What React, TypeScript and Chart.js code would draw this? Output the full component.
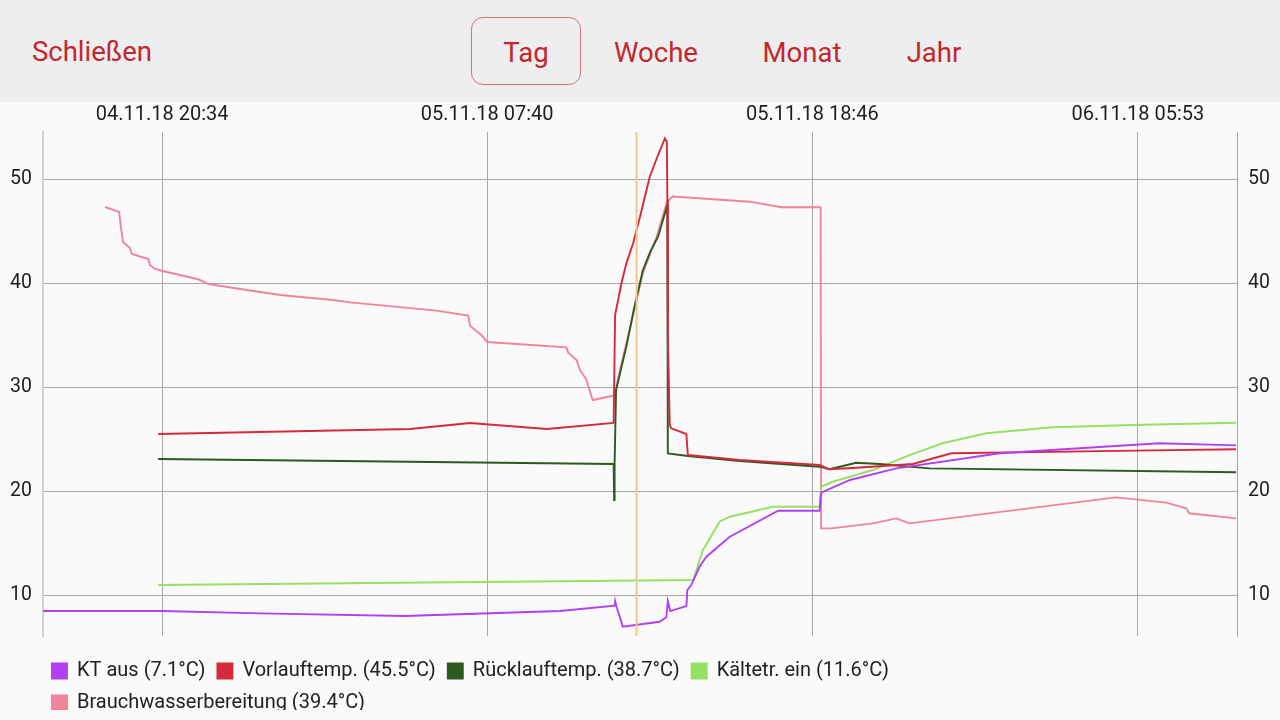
import React, { useEffect, useRef } from 'react';
import { Chart, registerables } from 'chart.js';

Chart.register(...registerables);

// Time values are minutes since 04.11.18 00:00
const SERIES_LABELS = [
  'KT aus (7.1°C)',
  'Vorlauftemp. (45.5°C)',
  'Rücklauftemp. (38.7°C)',
  'Kältetr. ein (11.6°C)',
  'Brauchwasserbereitung (39.4°C)',
];
const SERIES_COLORS = ['#b040f0', '#d42a3c', '#2d5a1e', '#96e063', '#f0849b'];

const KT_AUS_T = [990, 1236, 1435, 1731, 2049, 2161, 2162, 2165, 2178, 2253, 2267, 2270, 2275, 2308, 2310, 2318, 2335, 2349, 2397, 2496, 2581, 2584, 2643, 2738, 2950, 3277, 3434];
const KT_AUS_V = [8.46, 8.46, 8.24, 7.98, 8.46, 8.97, 9.42, 8.88, 6.95, 7.43, 7.86, 9.42, 8.46, 8.94, 10.48, 10.96, 12.72, 13.68, 15.61, 18.11, 18.11, 19.84, 21.06, 22.18, 23.63, 24.59, 24.39];

const VORLAUF_T = [1226, 1742, 1865, 2022, 2159, 2162, 2175, 2185, 2199, 2213, 2233, 2250, 2264, 2268, 2269, 2270, 2274, 2277, 2308, 2311, 2417, 2581, 2601, 2656, 2772, 2851, 3229, 3434];
const VORLAUF_V = [25.48, 25.96, 26.54, 25.96, 26.54, 36.92, 39.97, 41.89, 43.82, 46.37, 50.22, 52.31, 53.91, 53.59, 47.98, 34.71, 26.35, 26.03, 25.48, 23.46, 22.98, 22.5, 22.09, 22.24, 22.6, 23.63, 23.88, 24.01];

const RUECKLAUF_T = [1226, 2159, 2160, 2161, 2164, 2185, 2201, 2219, 2235, 2250, 2269, 2270, 2311, 2417, 2581, 2601, 2656, 2704, 2806, 3434];
const RUECKLAUF_V = [23.08, 22.6, 19.13, 22.69, 29.71, 33.88, 37.6, 41.25, 43.1, 44.45, 47.5, 23.62, 23.37, 22.88, 22.34, 22.09, 22.72, 22.6, 22.18, 21.8];

const KAELTE_T = [1226, 2322, 2342, 2376, 2397, 2485, 2581, 2584, 2608, 2690, 2765, 2833, 2922, 3059, 3222, 3434];
const KAELTE_V = [10.96, 11.44, 14.33, 17.05, 17.53, 18.49, 18.49, 20.41, 20.89, 22.02, 23.46, 24.59, 25.55, 26.13, 26.35, 26.57];

const BRAUCH_T = [1117, 1146, 1150, 1154, 1168, 1172, 1206, 1209, 1220, 1233, 1308, 1329, 1407, 1476, 1584, 1619, 1796, 1861, 1865, 1888, 1900, 2062, 2066, 2083, 2090, 2103, 2116, 2161, 2172, 2198, 2219, 2247, 2268, 2280, 2438, 2503, 2583, 2584, 2605, 2690, 2738, 2765, 3188, 3291, 3332, 3338, 3434];
const BRAUCH_V = [47.31, 46.83, 45.19, 43.94, 43.37, 42.79, 42.31, 41.73, 41.35, 41.18, 40.36, 39.9, 39.33, 38.85, 38.37, 38.14, 37.34, 36.86, 35.87, 35.0, 34.33, 33.82, 33.3, 32.6, 31.63, 30.74, 28.75, 29.2, 31.63, 36.73, 40.96, 44.42, 47.79, 48.32, 47.82, 47.28, 47.28, 16.41, 16.41, 16.89, 17.37, 16.89, 19.39, 18.88, 18.34, 17.86, 17.37];

const X_TICK_TIMES = [1234, 1900, 2566, 3233];
const X_TICK_LABELS = ['04.11.18 20:34', '05.11.18 07:40', '05.11.18 18:46', '06.11.18 05:53'];
const Y_TICKS = [10, 20, 30, 40, 50];
const X_MIN = 990;
const X_MAX = 3436;
const Y_MIN = 6.06;
const Y_MAX = 54.52;
const MARKER_TIME = 2206;

const NAV_LEFT = 'Schließen';
const NAV_BUTTONS = ['Tag', 'Woche', 'Monat', 'Jahr'];
const NAV_CENTERS = [526, 656, 802, 934];

const LEGEND_WRAP = 1000;
const TEXT_RED = '#c1272d';
const GRID = '#a8a8a8';

function toSeries(ts: number[], vs: number[]) {
  return ts.map((t, i) => ({ x: t, y: vs[i] }));
}

export default function App() {
  const canvasRef = useRef<HTMLCanvasElement | null>(null);

  useEffect(() => {
    if (!canvasRef.current) return;
    const pairs: [number[], number[]][] = [
      [KT_AUS_T, KT_AUS_V],
      [VORLAUF_T, VORLAUF_V],
      [RUECKLAUF_T, RUECKLAUF_V],
      [KAELTE_T, KAELTE_V],
      [BRAUCH_T, BRAUCH_V],
    ];
    const datasets = pairs.map((p, i) => ({
      label: SERIES_LABELS[i],
      data: toSeries(p[0], p[1]),
      borderColor: SERIES_COLORS[i],
      backgroundColor: SERIES_COLORS[i],
      borderWidth: 1.9,
      pointRadius: 0,
      tension: 0,
      fill: false,
    }));

    const layoutPlugin = {
      id: 'legendLayout',
      beforeUpdate(chart: any) {
        const lg = chart.legend;
        if (lg && !lg.__patched) {
          lg.__patched = true;
          const orig = lg.update.bind(lg);
          lg.update = (mw: number, mh: number, m: any) => orig(Math.min(mw, LEGEND_WRAP), mh, m);
        }
      },
      afterLayout(chart: any) {
        const lg = chart.legend;
        if (!lg) return;
        lg.left = 40;
        lg.right = 40 + LEGEND_WRAP;
        lg.width = LEGEND_WRAP;
        lg.top = 547;
      },
    };

    const markerPlugin = {
      id: 'marker',
      afterDatasetsDraw(chart: any) {
        const ctx = chart.ctx;
        const x = chart.scales.x.getPixelForValue(MARKER_TIME);
        const { top, bottom } = chart.chartArea;
        ctx.save();
        ctx.strokeStyle = '#f5c58c';
        ctx.lineWidth = 2;
        ctx.beginPath();
        ctx.moveTo(x, top);
        ctx.lineTo(x, bottom);
        ctx.stroke();
        ctx.restore();
      },
    };

    const yTicks = (scale: any) => {
      scale.ticks = Y_TICKS.map((v) => ({ value: v }));
    };

    const chart = new Chart(canvasRef.current, {
      type: 'line',
      data: { datasets: datasets as any },
      options: {
        animation: false,
        responsive: false,
        maintainAspectRatio: false,
        layout: { padding: { bottom: 10 } },
        plugins: {
          tooltip: { enabled: false },
          legend: {
            position: 'bottom',
            align: 'start',
            labels: {
              boxWidth: 15,
              boxHeight: 15,
              padding: 12,
              color: '#212121',
              font: { family: 'Roboto', size: 20 },
            },
          },
        },
        scales: {
          x: {
            type: 'linear',
            position: 'top',
            min: X_MIN,
            max: X_MAX,
            afterFit: (s: any) => {
              s.height = 30;
            },
            afterBuildTicks: (s: any) => {
              s.ticks = X_TICK_TIMES.map((v) => ({ value: v }));
            },
            ticks: {
              autoSkip: false,
              maxRotation: 0,
              padding: 5,
              color: '#1e1e1e',
              font: { family: 'Roboto', size: 20 },
              callback: (v: any) => {
                const i = X_TICK_TIMES.indexOf(Number(v));
                return i >= 0 ? X_TICK_LABELS[i] : '';
              },
            },
            grid: { color: GRID, lineWidth: 1, drawTicks: false },
            border: { display: false },
          },
          y: {
            type: 'linear',
            position: 'left',
            min: Y_MIN,
            max: Y_MAX,
            afterFit: (s: any) => {
              s.width = 43;
            },
            afterBuildTicks: yTicks,
            ticks: { padding: 11, color: '#1e1e1e', font: { family: 'Roboto', size: 19.5 } },
            grid: { color: GRID, lineWidth: 1, drawTicks: false },
            border: { display: true, color: '#d2d2d2', width: 2 },
          },
          y2: {
            type: 'linear',
            position: 'right',
            min: Y_MIN,
            max: Y_MAX,
            afterFit: (s: any) => {
              s.width = 43;
            },
            afterBuildTicks: yTicks,
            ticks: { padding: 11, color: '#1e1e1e', font: { family: 'Roboto', size: 19.5 } },
            grid: { drawOnChartArea: false, drawTicks: false },
            border: { display: true, color: GRID, width: 1 },
          },
        },
      },
      plugins: [layoutPlugin, markerPlugin],
    } as any);

    return () => chart.destroy();
  }, []);

  const navText: React.CSSProperties = {
    position: 'absolute',
    top: 17,
    height: 68,
    lineHeight: '70px',
    fontFamily: 'Roboto',
    fontSize: 27.5,
    color: TEXT_RED,
    textAlign: 'center',
    boxSizing: 'border-box',
  };

  return (
    <div style={{ position: 'fixed', left: 0, top: 0, width: 1280, height: 720, background: '#fafafa', overflow: 'hidden' }}>
      <div style={{ position: 'absolute', left: 0, top: 0, width: 1280, height: 102, background: '#eeeeee' }}>
        <div style={{ ...navText, left: 32, textAlign: 'left' }}>{NAV_LEFT}</div>
        {NAV_BUTTONS.map((b, i) => (
          <div
            key={b}
            style={{
              ...navText,
              left: NAV_CENTERS[i] - 55,
              width: 110,
              border: i === 0 ? '1px solid #c87878' : '1px solid transparent',
              borderRadius: 12,
              lineHeight: '69px',
            }}
          >
            {b}
          </div>
        ))}
      </div>
      <div style={{ position: 'absolute', left: 0, top: 102, width: 1280, height: 618 }}>
        <canvas ref={canvasRef} width={1280} height={618} style={{ display: 'block', width: 1280, height: 618 }} />
      </div>
    </div>
  );
}
